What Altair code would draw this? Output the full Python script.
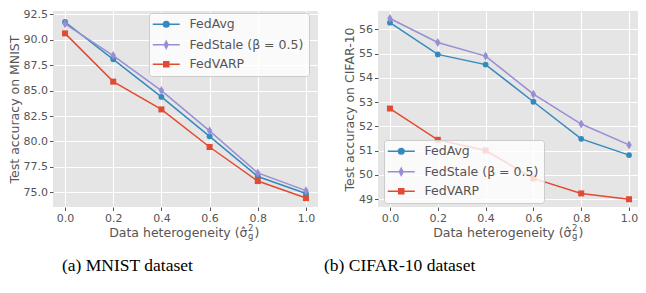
import altair as alt
import pandas as pd

x_vals = [0.0, 0.2, 0.4, 0.6, 0.8, 1.0]
series = ["FedAvg", "FedStale (β = 0.5)", "FedVARP"]
colors = ["#348ABD", "#988ED5", "#E24A33"]

mnist_fedavg = [91.75, 88.08, 84.38, 80.50, 76.55, 74.88]
mnist_fedstale = [91.57, 88.45, 85.00, 81.04, 76.90, 75.16]
mnist_fedvarp = [90.63, 85.88, 83.15, 79.45, 76.10, 74.43]

cifar_fedavg = [56.28, 54.97, 54.55, 53.02, 51.49, 50.82]
cifar_fedstale = [56.45, 55.46, 54.90, 53.33, 52.10, 51.24]
cifar_fedvarp = [52.74, 51.45, 51.01, 49.86, 49.24, 49.00]

x_ticks = [0.0, 0.2, 0.4, 0.6, 0.8, 1.0]
mnist_ticks = [75.0, 77.5, 80.0, 82.5, 85.0, 87.5, 90.0, 92.5]
cifar_ticks = [49, 50, 51, 52, 53, 54, 55, 56]

# marker shapes (plot) and line+marker shapes (legend)
plot_shapes = ["circle", "M0,-1L0.6,0L0,1L-0.6,0Z", "square"]
plot_sizes = [34, 81, 36]
legend_paths = [
    "M-2.7,0L2.7,0M0.56,0A0.56,0.56,0,1,1,-0.56,0A0.56,0.56,0,1,1,0.56,0Z",
    "M-2.7,0L2.7,0M0,-0.7L0.36,0L0,0.7L-0.36,0Z",
    "M-2.7,0L2.7,0M-0.5,-0.5L0.5,-0.5L0.5,0.5L-0.5,0.5Z",
]

FONT = "DejaVu Sans"
GRAY = "#555555"
H = 196


def panel(values, y_domain, y_ticks, y_fmt, y_title, caption, cap_dx, leg_x, leg_y, W):
    df = pd.DataFrame({
        "x": x_vals * 3,
        "y": values[0] + values[1] + values[2],
        "series": [s for s in series for _ in x_vals],
    })
    base = alt.Chart(df)
    xenc = alt.X("x:Q", scale=alt.Scale(domain=[-0.05, 1.05], nice=False, zero=False),
                 axis=alt.Axis(values=x_ticks, format=".1f", title=None))
    yenc = alt.Y("y:Q", scale=alt.Scale(domain=y_domain, nice=False, zero=False),
                 axis=alt.Axis(values=y_ticks, format=y_fmt, title=y_title))
    leg = alt.Legend(
        orient="none", legendX=leg_x, legendY=leg_y, title=None,
        fillColor="rgba(255,255,255,0.8)", strokeColor="#cccccc", cornerRadius=3,
        padding=5, symbolSize=100, symbolStrokeWidth=1.5, symbolOffset=6,
        labelOffset=17, labelFont=FONT, labelFontSize=12.5, labelColor=GRAY,
        rowPadding=6.5, symbolOpacity=1, symbolType="circle",
    )
    col = alt.Color("series:N", scale=alt.Scale(domain=series, range=colors), legend=leg)

    layers = []
    for s, shp, sz in zip(series, plot_shapes, plot_sizes):
        sub = base.transform_filter(alt.datum.series == s)
        layers.append(sub.mark_line(strokeWidth=1.5).encode(x=xenc, y=yenc, color=col))
        layers.append(sub.mark_point(shape=shp, size=sz, filled=True, opacity=1,
                                     strokeWidth=0).encode(x=xenc, y=yenc, color=col))

    dummy = base.mark_point(filled=True, opacity=0).encode(
        x=xenc, y=yenc, color=col,
        shape=alt.Shape("series:N", scale=alt.Scale(domain=series, range=legend_paths), legend=leg),
    )
    layers.append(dummy)

    one = pd.DataFrame({"a": [0]})
    cx = W / 2
    ty = H + 26
    t_main = alt.Chart(one).mark_text(text="Data heterogeneity (σ̂", align="right", baseline="middle",
                                      font=FONT, fontSize=12.5, color=GRAY).encode(
        x=alt.value(cx + 62), y=alt.value(ty))
    t_sup = alt.Chart(one).mark_text(text="2", align="left", baseline="middle",
                                     font=FONT, fontSize=8.5, color=GRAY).encode(
        x=alt.value(cx + 62.5), y=alt.value(ty - 5))
    t_sub = alt.Chart(one).mark_text(text="g", align="left", baseline="middle",
                                     font=FONT, fontSize=8.5, color=GRAY).encode(
        x=alt.value(cx + 62.5), y=alt.value(ty + 3))
    t_close = alt.Chart(one).mark_text(text=")", align="left", baseline="middle",
                                       font=FONT, fontSize=12.5, color=GRAY).encode(
        x=alt.value(cx + 69), y=alt.value(ty))
    layers += [t_main, t_sup, t_sub, t_close]

    return alt.layer(*layers).properties(
        width=W, height=H,
        title=alt.TitleParams(caption, orient="bottom", anchor="start", frame="group", dx=cap_dx,
                              offset=16, baseline="top", font="Liberation Serif", fontSize=17.5,
                              fontWeight="normal", color="black"),
    )


left = panel([mnist_fedavg, mnist_fedstale, mnist_fedvarp], [73.55, 92.83], mnist_ticks, ".1f",
             "Test accuracy on MNIST", "(a) MNIST dataset", 9, 96, 2, 265)
right = panel([cifar_fedavg, cifar_fedstale, cifar_fedvarp], [48.68, 56.76], cifar_ticks, "d",
              "Test accuracy on CIFAR-10", "(b) CIFAR-10 dataset", -54, 6, 129, 263)

chart = alt.hconcat(left, right, spacing=60, bounds="flush").resolve_scale(
    x="independent", y="independent", color="independent", shape="independent"
).resolve_legend(color="independent", shape="independent").configure_view(
    fill="#E5E5E5", stroke=None
).configure_axis(
    grid=True, gridColor="white", gridWidth=1.1, domain=False,
    tickColor=GRAY, tickSize=3.5, tickWidth=1,
    labelColor=GRAY, labelFont=FONT, labelFontSize=11, labelPadding=2,
    titleColor=GRAY, titleFont=FONT, titleFontSize=12.5, titleFontWeight="normal", titlePadding=2,
).properties(padding={"left": 0, "top": 0, "right": -3, "bottom": 0})

chart.save("out.html", embed_options={"renderer": "svg", "actions": False})
